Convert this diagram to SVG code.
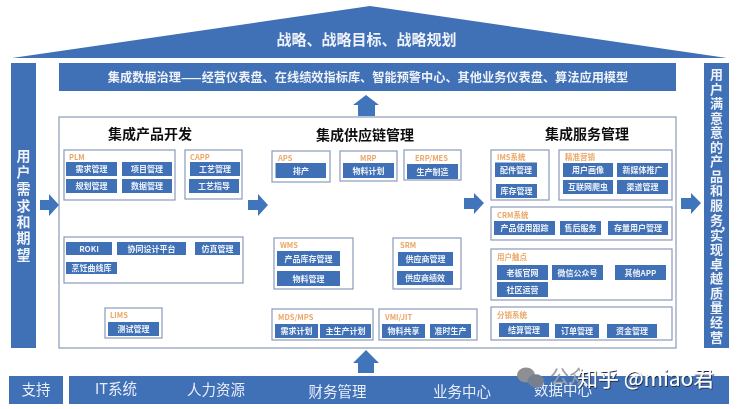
<svg xmlns="http://www.w3.org/2000/svg" width="739" height="409" viewBox="0 0 739 409">
<defs>
<style>
text{font-family:"Noto Sans CJK SC","Liberation Sans",sans-serif;text-anchor:middle}
.bar{fill:#3f6fb5}
.frame{fill:#fff;stroke:#8a9bb9;stroke-width:1.2}
.item{fill:#3f6fb5}
.item-t{fill:#eef2f9;font-size:8px;font-weight:700}
.lab{fill:#eba766;font-size:7.500px;font-weight:700;text-anchor:start}
.title{fill:#111;font-size:14px;font-weight:700}
.head{fill:#eef2f9;font-size:15px;font-weight:700}
.vert{fill:#eef2f9;font-size:13px;font-weight:700}
.sup{fill:#e8eef8;font-size:14.500px}
.arrow{fill:#3f74bc}
.wm{fill:#fff;font-size:21px;text-anchor:start}
</style>
<filter id="soft" x="-2%" y="-2%" width="104%" height="104%"><feGaussianBlur stdDeviation="0.3"/></filter>
<filter id="wmshadow" x="-5%" y="-20%" width="110%" height="140%"><feDropShadow dx="0.8" dy="1" stdDeviation="0.4" flood-color="#1c2a44" flood-opacity="1"/></filter>
</defs>
<rect width="739" height="409" fill="#fff"/>
<g filter="url(#soft)">
<g id="roof"><polygon class="bar" points="12,58 370,6 727,58"/><text class="head" x="366.500" y="45">战略、战略目标、战略规划</text></g>
<g id="user-needs"><rect class="bar" x="11" y="63" width="25" height="285"/><text class="vert" style="font-size:14px" x="23.500 23.500 23.500 23.500 23.500 23.500 23.500" y="161 177 194 211 227 243 260">用户需求和期望</text></g>
<g id="user-satisfaction"><rect class="bar" x="704" y="63" width="25" height="285"/><text class="vert" x="716.500 716.500 716.500 716.500 716.500 716.500 716.500 716.500 716.500 716.500 716.500 723 716.500 716.500 716.500 716.500 716.500 716.500 716.500 716.500" y="79 93.500 108 122.500 137 151.500 166 180.500 195 209.500 224.500 229 240 254 269 283 298 312 327 342">用户满意意的产品和服务,实现卓越质量经营</text></g>
<g id="data-governance"><rect class="bar" x="59" y="63" width="617" height="28"/><text x="368" y="81.500" style="fill:#eef2f9;font-size:12.200px;font-weight:700">集成数据治理——经营仪表盘、在线绩效指标库、智能预警中心、其他业务仪表盘、算法应用模型</text></g>
<g id="main-frame"><rect class="frame" x="59" y="117" width="617" height="231"/>
<text class="title" x="150" y="139">集成产品开发</text><text class="title" x="365" y="140">集成供应链管理</text><text class="title" x="587" y="139">集成服务管理</text></g>

<g id="plm"><rect class="frame" x="64" y="150" width="111" height="50"/><text class="lab" x="69" y="160">PLM</text>
<rect class="item" x="66" y="162" width="51" height="14"/><text class="item-t" x="91.500" y="172">需求管理</text>
<rect class="item" x="122" y="162" width="50" height="14"/><text class="item-t" x="147" y="172">项目管理</text>
<rect class="item" x="66" y="179" width="51" height="14"/><text class="item-t" x="91.500" y="189">规划管理</text>
<rect class="item" x="122" y="179" width="50" height="14"/><text class="item-t" x="147" y="189">数据管理</text></g>
<g id="capp"><rect class="frame" x="185" y="150" width="57" height="49"/><text class="lab" x="190" y="160">CAPP</text>
<rect class="item" x="190" y="162" width="50" height="14"/><text class="item-t" x="215" y="172">工艺管理</text>
<rect class="item" x="189" y="179" width="50" height="14"/><text class="item-t" x="214" y="189">工艺指导</text></g>
<g id="roki"><rect class="frame" x="64" y="237" width="179" height="46"/>
<rect class="item" x="66" y="242" width="46" height="13"/><text class="item-t" x="89" y="252">ROKI</text>
<rect class="item" x="117" y="242" width="69" height="13"/><text class="item-t" x="151.500" y="252">协同设计平台</text>
<rect class="item" x="195" y="242" width="45" height="13"/><text class="item-t" x="217.500" y="252">仿真管理</text>
<rect class="item" x="66" y="262" width="51" height="12"/><text class="item-t" x="91.500" y="271">烹饪曲线库</text></g>
<g id="lims"><rect class="frame" x="105" y="308" width="57" height="30"/><text class="lab" x="110" y="318">LIMS</text>
<rect class="item" x="108" y="322" width="51" height="14"/><text class="item-t" x="133.500" y="332">测试管理</text></g>

<g id="aps"><rect class="frame" x="272" y="151" width="58" height="31"/><text class="lab" x="278" y="161">APS</text>
<rect class="item" x="275.500" y="163" width="50.500" height="15"/><text class="item-t" x="301" y="174">排产</text></g>
<g id="mrp"><rect class="frame" x="340" y="151" width="57" height="30"/><text class="lab" x="360" y="161">MRP</text>
<rect class="item" x="343" y="163" width="51" height="15"/><text class="item-t" x="368.500" y="174">物料计划</text></g>
<g id="erp-mes"><rect class="frame" x="404" y="150" width="57" height="30"/><text class="lab" x="415" y="161">ERP/MES</text>
<rect class="item" x="407" y="164" width="51" height="15"/><text class="item-t" x="432.500" y="175">生产制造</text></g>
<g id="wms"><rect class="frame" x="274" y="238" width="79" height="51"/><text class="lab" x="280" y="248">WMS</text>
<rect class="item" x="277" y="251" width="63" height="15"/><text class="item-t" x="308.500" y="262">产品库存管理</text>
<rect class="item" x="277" y="271" width="63" height="15"/><text class="item-t" x="308.500" y="282">物料管理</text></g>
<g id="srm"><rect class="frame" x="393" y="238" width="68" height="51"/><text class="lab" x="400" y="248">SRM</text>
<rect class="item" x="398" y="252" width="55" height="14"/><text class="item-t" x="425.500" y="262">供应商管理</text>
<rect class="item" x="397" y="271" width="56" height="14"/><text class="item-t" x="425" y="281">供应商绩效</text></g>
<g id="mds-mps"><rect class="frame" x="272" y="309" width="101" height="31"/><text class="lab" x="278" y="320">MDS/MPS</text>
<rect class="item" x="275" y="324" width="43" height="14"/><text class="item-t" x="296.500" y="334">需求计划</text>
<rect class="item" x="320" y="324" width="51" height="14"/><text class="item-t" x="345.500" y="334">主生产计划</text></g>
<g id="vmi-jit"><rect class="frame" x="379" y="309" width="98" height="31"/><text class="lab" x="385" y="320">VMI/JIT</text>
<rect class="item" x="382" y="324" width="43" height="14"/><text class="item-t" x="403.500" y="334">物料共享</text>
<rect class="item" x="430" y="324" width="41" height="14"/><text class="item-t" x="450.500" y="334">准时生产</text></g>

<g id="ims"><rect class="frame" x="491" y="150" width="58" height="50"/><text class="lab" x="497" y="160">IMS系统</text>
<rect class="item" x="495" y="162.500" width="42" height="14.500"/><text class="item-t" x="516" y="173">配件管理</text>
<rect class="item" x="496" y="184" width="41" height="14"/><text class="item-t" x="516.500" y="194">库存管理</text></g>
<g id="marketing"><rect class="frame" x="559" y="150" width="113" height="50"/><text class="lab" x="565" y="160">精准营销</text>
<rect class="item" x="563" y="163" width="50" height="14"/><text class="item-t" x="588" y="173">用户画像</text>
<rect class="item" x="617" y="163" width="51" height="14"/><text class="item-t" x="642.500" y="173">新媒体推广</text>
<rect class="item" x="563" y="180" width="50" height="14"/><text class="item-t" x="588" y="190">互联网爬虫</text>
<rect class="item" x="617" y="180" width="51" height="14"/><text class="item-t" x="642.500" y="190">渠道管理</text></g>
<g id="crm"><rect class="frame" x="491" y="207" width="181" height="33"/><text class="lab" x="497" y="218">CRM系统</text>
<rect class="item" x="494" y="221" width="61" height="14"/><text class="item-t" x="524.500" y="231">产品使用跟踪</text>
<rect class="item" x="560" y="221" width="41" height="14"/><text class="item-t" x="580.500" y="231">售后服务</text>
<rect class="item" x="608" y="221" width="60" height="14"/><text class="item-t" x="638" y="231">存量用户管理</text></g>
<g id="touchpoints"><rect class="frame" x="491" y="249" width="181" height="51"/><text class="lab" x="497" y="260">用户触点</text>
<rect class="item" x="497" y="265" width="51" height="15"/><text class="item-t" x="522.500" y="276">老板官网</text>
<rect class="item" x="552" y="265" width="51" height="15"/><text class="item-t" x="577.500" y="276">微信公众号</text>
<rect class="item" x="615" y="265" width="51" height="15"/><text class="item-t" x="640.500" y="276">其他APP</text>
<rect class="item" x="497" y="282" width="51" height="15"/><text class="item-t" x="522.500" y="293">社区运营</text></g>
<g id="distribution"><rect class="frame" x="491" y="307" width="181" height="33"/><text class="lab" x="497" y="318">分销系统</text>
<rect class="item" x="499" y="323" width="50" height="14"/><text class="item-t" x="524" y="333">结算管理</text>
<rect class="item" x="555" y="324" width="44" height="14"/><text class="item-t" x="577" y="334">订单管理</text>
<rect class="item" x="607" y="324" width="50" height="14"/><text class="item-t" x="632" y="334">资金管理</text></g>

<g id="support"><rect class="bar" x="9" y="376" width="54" height="28"/><text class="sup" x="36" y="395">支持</text></g>
<g id="support-bar"><rect class="bar" x="69" y="376" width="660" height="28"/>
<text class="sup" x="116" y="394">IT系统</text><text class="sup" x="216" y="395">人力资源</text><text class="sup" x="337.500" y="397">财务管理</text><text class="sup" x="462" y="397">业务中心</text><text class="sup" x="563" y="395">数据中心</text></g>

<g id="connectors">
<polygon class="arrow" points="40,200 49,200 49,194 59,205 49,216 49,210 40,210"/>
<polygon class="arrow" points="248,200 258,200 258,194 268,205 258,216 258,210 248,210"/>
<polygon class="arrow" points="464,198 474,198 474,193 484,203 474,214 474,209 464,209"/>
<polygon class="arrow" points="681,198 691,198 691,193 701,203 691,214 691,209 681,209"/>
<polygon class="arrow" points="366,95 379,105 375,105 375,116 358,116 358,105 353,105"/>
<polygon class="arrow" points="366,350 379,363 374,363 374,373 358,373 358,363 353,363"/>
</g>
</g>
<g id="watermark">
<ellipse cx="526" cy="375" rx="9" ry="7.500" fill="#8d8f92"/><ellipse cx="536" cy="381" rx="8" ry="6.500" fill="#77808c" stroke="#5b7fb8" stroke-width="0.500"/>
<text x="550" y="384" style="fill:#9a9da3;font-size:19px;text-anchor:start">公众</text>
<text class="wm" x="577" y="386" filter="url(#wmshadow)">知乎 @miao君</text>
</g>
</svg>
